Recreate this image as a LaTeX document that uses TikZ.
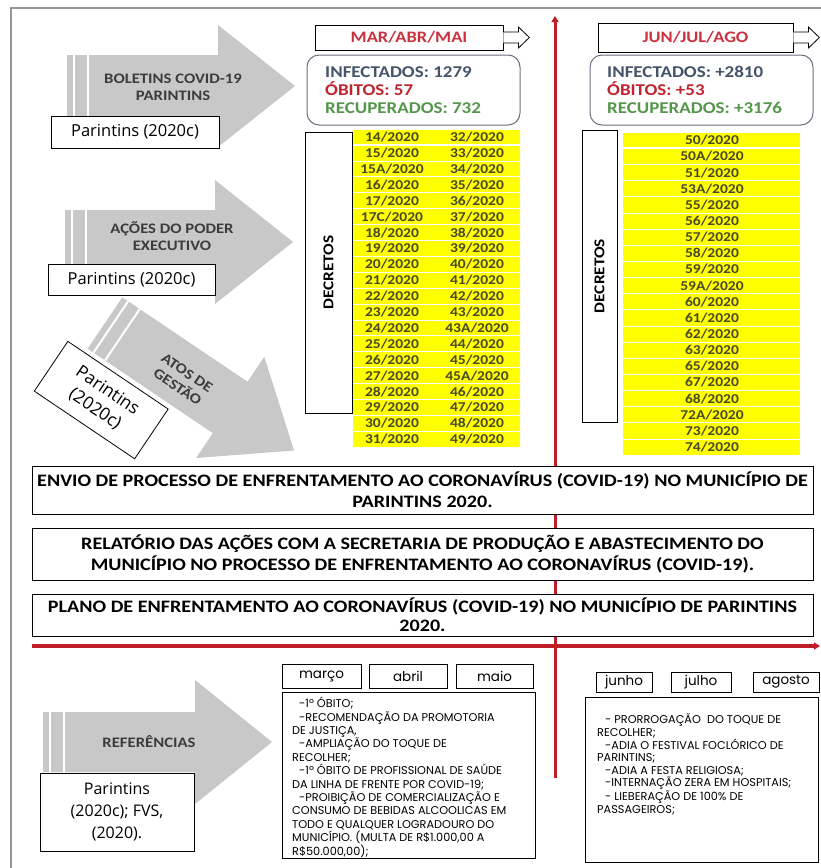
\documentclass[tikz,border=0pt]{standalone}
\usepackage{fontspec}
\setmainfont{Carlito}[FakeStretch=1.15]
\newfontfamily\segoe{Open Sans}
\newfontfamily\gothic{Poppins}
\usetikzlibrary{arrows.meta}
\definecolor{framegray}{RGB}{150,150,150}
\definecolor{arrgray}{RGB}{200,200,200}
\definecolor{arrtext}{RGB}{60,60,60}
\definecolor{redline}{RGB}{192,30,38}
\definecolor{hdrred}{RGB}{204,50,62}
\definecolor{infblue}{RGB}{68,84,106}
\definecolor{obred}{RGB}{192,36,46}
\definecolor{recgreen}{RGB}{84,150,74}
\definecolor{decyellow}{RGB}{255,255,0}
\definecolor{dectext}{RGB}{72,72,36}
\definecolor{infoborder}{RGB}{110,110,130}
\newcommand\myfs[2]{\fontsize{#1bp}{#2bp}\selectfont}
% back x, centre y, body half height, head base x, head half height, tip x
\newcommand\grayarrow[6]{%
  \fill[arrgray] (#1,#2-#3) -- (#4,#2-#3) -- (#4,#2-#5) -- (#6,#2) -- (#4,#2+#5) -- (#4,#2+#3) -- (#1,#2+#3) -- cycle;
  \draw[white, line width=2bp] (#1+7,#2-#3) -- (#1+7,#2+#3) (#1+21,#2-#3) -- (#1+21,#2+#3);}
\tikzset{
 srcbox/.style={draw=black, fill=white, line width=0.8bp, align=center, font=\segoe\myfs{16.5}{21}, inner sep=0pt},
 arrlabel/.style={font=\bfseries\myfs{14.5}{17}, text=arrtext, align=center, inner sep=0pt},
 hdrbox/.style={draw=black, fill=white, line width=0.8bp, font=\bfseries\myfs{16}{18}, text=hdrred, inner sep=0pt},
 hdrarrow/.style={draw=black, line width=0.8bp, fill=white},
 infobox/.style={draw=infoborder, rounded corners=12bp, line width=1bp, inner sep=0pt},
 infotext/.style={anchor=west, align=left, font=\bfseries\myfs{16.5}{18}, inner sep=0pt},
 decbox/.style={draw=black, line width=0.8bp, fill=white, inner sep=0pt},
 dectitle/.style={rotate=90, font=\bfseries\myfs{15}{18}, inner sep=0pt},
 dectxt/.style={font=\bfseries\myfs{13.5}{15}, text=dectext, inner sep=0pt},
 widebox/.style={draw=black, fill=white, line width=0.8bp, align=center, font=\bfseries\myfs{17.5}{21}, inner sep=0pt, minimum width=781bp},
 monthbox/.style={draw=black, fill=white, line width=0.8bp, font=\gothic\myfs{13.5}{14}, inner sep=0pt},
 listbox/.style={draw=black, fill=white, line width=0.8bp, inner sep=0pt},
 listtext/.style={anchor=north west, align=left, font=\gothic\myfs{11.3}{13.4}, inner sep=0pt},
 redarrow/.style={draw=redline, line width=3bp, -{Triangle[length=6bp, width=7bp]}},
}
\begin{document}
\begin{tikzpicture}[x=1bp, y=-1bp]
\useasboundingbox[fill=white] (0,0) rectangle (821,868);
\draw[framegray, line width=1.6bp] (11,868) -- (11,8) -- (821,8);

% red axes
\coordinate (vbot) at (555,778);
\coordinate (vtop) at (555,16);
\coordinate (hleft) at (32,646);
\coordinate (hright) at (820,646);
\draw[redarrow] (vbot) -- (vtop);
\draw[redarrow, line width=3.5bp] (hleft) -- (hright);

% arrow 1
\grayarrow{67}{86}{31}{218}{61}{295}
\node[arrlabel] (bol) at (173,87) {BOLETINS COVID-19\\PARINTINS};
\node[srcbox, minimum width=168bp, minimum height=32bp] (src1) at (135,132) {Parintins (2020c)};

% arrow 2
\grayarrow{65}{242}{32}{215}{62}{293}
\node[arrlabel] (acoes) at (172,236) {AÇÕES DO PODER\\EXECUTIVO};
\node[srcbox, minimum width=167bp, minimum height=31bp] (src2) at (131.5,279.5) {Parintins (2020c)};

% arrow 3 (rotated)
\begin{scope}[shift={(105,323)}, rotate=-34]
\grayarrow{0}{0}{31}{151}{61}{228}
\node[arrlabel, transform shape] (atos) at (96,4) {ATOS DE\\GESTÃO};
\node[srcbox, transform shape, minimum width=121bp, minimum height=60bp, font=\segoe\myfs{17.5}{22}] (src3) at (40,66) {Parintins\\(2020c)};
\end{scope}

% headers
\node[hdrbox, minimum width=188bp, minimum height=25bp] (mar) at (409,37.5) {MAR/ABR/MAI};
\draw[hdrarrow] ([yshift=5.5bp]mar.east) -- ++(15,0) -- ++(0,-5) -- ++(11,10.5) -- ++(-11,10.5) -- ++(0,-5) -- ++(-15,0);
\node[hdrbox, minimum width=195bp, minimum height=29bp] (jun) at (695.5,37.5) {JUN/JUL/AGO};
\draw[hdrarrow] ([yshift=5.5bp]jun.east) -- ++(15,0) -- ++(0,-5) -- ++(11,10.5) -- ++(-11,10.5) -- ++(0,-5) -- ++(-15,0);

% info boxes
\node[infobox, minimum width=213bp, minimum height=70bp] (inf1) at (413.5,90) {};
\node[infotext] (inf1t) at (325,90) {\color{infblue}INFECTADOS: 1279\\\color{obred}ÓBITOS: 57\\\color{recgreen}RECUPERADOS: 732};
\node[infobox, minimum width=223bp, minimum height=70bp] (inf2) at (701.5,90) {};
\node[infotext] (inf2t) at (607,90) {\color{infblue}INFECTADOS: +2810\\\color{obred}ÓBITOS: +53\\\color{recgreen}RECUPERADOS: +3176};

% decree table left
\node[decbox, minimum width=47bp, minimum height=281bp] (dbox1) at (328.5,272.5) {};
\node[dectitle] (dt1) at (dbox1.center) {DECRETOS};
\foreach \a/\b [count=\i from 0] in {14/32,15/33,15A/34,16/35,17/36,17C/37,18/38,19/39,20/40,21/41,22/42,23/43,24/43A,25/44,26/45,27/45A,28/46,29/47,30/48,31/49}{
  \fill[decyellow] (353,129+\i*15.9) rectangle (520,129+\i*15.9+15.9);
  \draw[white, line width=0.5bp] (353,129+\i*15.9) -- (520,129+\i*15.9);
  \node[dectxt] (la\i) at (392,129+\i*15.9+8.2) {\a/2020};
  \node[dectxt] (lb\i) at (477,129+\i*15.9+8.2) {\b/2020};
}
\draw[white, line width=1.6bp] (353,144.9) -- (520,144.9);

% decree table right
\node[decbox, minimum width=35bp, minimum height=292bp] (dbox2) at (599.5,276) {};
\node[dectitle] (dt2) at (dbox2.center) {DECRETOS};
\foreach \a [count=\i from 0] in {50,50A,51,53A,55,56,57,58,59,59A,60,61,62,63,65,67,68,72A,73,74}{
  \fill[decyellow] (623,132+\i*16.15) rectangle (800,132+\i*16.15+16.15);
  \draw[white, line width=0.5bp] (623,132+\i*16.15) -- (800,132+\i*16.15);
  \node[dectxt] (r\i) at (712,132+\i*16.15+8.3) {\a/2020};
}
\draw[white, line width=1.6bp] (623,148.15) -- (800,148.15);

% wide boxes
\node[widebox, minimum height=48bp] (envio) at (422.5,490) {ENVIO DE PROCESSO DE ENFRENTAMENTO AO CORONAVÍRUS (COVID-19) NO MUNICÍPIO DE\\PARINTINS 2020.};
\node[widebox, minimum height=52bp] (relat) at (422.5,554) {RELATÓRIO DAS AÇÕES COM A SECRETARIA DE PRODUÇÃO E ABASTECIMENTO DO\\MUNICÍPIO NO PROCESSO DE ENFRENTAMENTO AO CORONAVÍRUS (COVID-19).};
\node[widebox, minimum height=42bp, font=\bfseries\myfs{17.5}{19}] (plano) at (422.5,615) {PLANO DE ENFRENTAMENTO AO CORONAVÍRUS (COVID-19) NO MUNICÍPIO DE PARINTINS\\2020.};

% references arrow
\grayarrow{43}{742}{30}{195}{62}{272}
\node[arrlabel] (ref) at (149,742) {REFERÊNCIAS};
\node[srcbox, minimum width=154bp, minimum height=78bp, font=\segoe\myfs{16}{22}] (srcref) at (117,812) {Parintins\\(2020c); FVS,\\(2020).};

% months left
\node[monthbox, minimum width=79bp, minimum height=24bp] (marco) at (321.5,676) {março};
\node[monthbox, minimum width=78bp, minimum height=24bp] (abril) at (408,676) {abril};
\node[monthbox, minimum width=77bp, minimum height=24bp] (maio) at (494.5,676) {maio};
\node[listbox, minimum width=253bp, minimum height=166bp] (list1) at (408.5,775) {};
\node[listtext] (list1t) at (292,697) {\hspace*{7bp}-1º ÓBITO;\\
\hspace*{7bp}-RECOMENDAÇÃO DA PROMOTORIA\\
DE JUSTIÇA,\\
\hspace*{7bp}-AMPLIAÇÃO DO TOQUE DE\\
RECOLHER;\\
\hspace*{7bp}-1º ÓBITO DE PROFISSIONAL DE SAÚDE\\
DA LINHA DE FRENTE POR COVID-19;\\
\hspace*{7bp}-PROIBIÇÃO DE COMERCIALIZAÇÃO E\\
CONSUMO DE BEBIDAS ALCOOLICAS EM\\
TODO E QUALQUER LOGRADOURO DO\\
MUNICÍPIO. (MULTA DE R\$1.000,00 A\\
R\$50.000,00);};

% months right
\node[monthbox, minimum width=56bp, minimum height=20bp] (junho) at (624,682) {junho};
\node[monthbox, minimum width=60bp, minimum height=20bp] (julho) at (701,682) {julho};
\node[monthbox, minimum width=66bp, minimum height=20bp] (agosto) at (786,682) {agosto};
\node[listbox, minimum width=233bp, minimum height=165bp] (list2) at (701.5,779.5) {};
\node[listtext, font=\gothic\myfs{11.3}{12.6}] (list2t) at (597,714) {\hspace*{8bp}- PRORROGAÇÃO\ \ DO TOQUE DE\\
RECOLHER;\\
\hspace*{8bp}-ADIA O FESTIVAL FOCLÓRICO DE\\
PARINTINS;\\
\hspace*{8bp}-ADIA A FESTA RELIGIOSA;\\
\hspace*{8bp}-INTERNAÇÃO ZERA EM HOSPITAIS;\\
\hspace*{8bp}- LIEBERAÇÃO DE 100\% DE\\
PASSAGEIROS;};
\end{tikzpicture}
\end{document}
